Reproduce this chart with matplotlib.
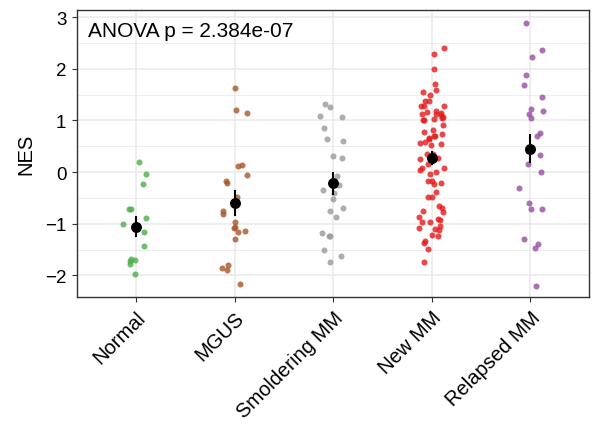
import numpy as np
import matplotlib
matplotlib.use("Agg")
import matplotlib.pyplot as plt
import matplotlib.transforms as mtransforms
from matplotlib.ticker import MultipleLocator

plt.rcParams['font.family'] = ['Liberation Sans', 'DejaVu Sans']

groups = ["Normal", "MGUS", "Smoldering MM", "New MM", "Relapsed MM"]
colors = ["#4DAF4A", "#A65628", "#999999", "#E41A1C", "#984EA3"]

nes_normal = [0.20, -0.04, -0.23, -0.71, -0.72, -0.89, -1.00, -1.15, -1.44,
              -1.70, -1.68, -1.72, -1.78, -1.97]
nes_mgus = [1.62, 1.21, 1.15, 0.14, 0.12, -0.05, -0.21, -0.17, -0.48, -0.75,
            -0.81, -0.96, -1.08, -1.14, -1.16, -1.06, -1.30, -1.79, -1.86,
            -1.90, -2.17]
nes_smoldering = [1.31, 1.27, 1.09, 1.06, 0.86, 0.64, 0.61, 0.32, 0.28, -0.08,
                  -0.25, -0.34, -0.40, -0.52, -0.69, -0.75, -0.86, -1.17,
                  -1.24, -1.23, -1.50, -1.62, -1.74]
nes_new = [2.41, 2.28, 2.00, 1.71, 1.59, 1.56, 1.50, 1.38, 1.37, 1.29, 1.29,
           1.28, 1.19, 1.16, 1.15, 1.13, 1.13, 1.11, 1.06, 1.04, 1.03, 1.01,
           1.00, 0.91, 0.82, 0.77, 0.74, 0.70, 0.70, 0.66, 0.64, 0.58, 0.57,
           0.54, 0.53, 0.35, 0.35, 0.27, 0.26, 0.15, 0.04, 0.08, 0.08, 0.00,
           -0.03, -0.17, -0.21, -0.17, -0.23, -0.39, -0.48, -0.49, -0.66,
           -0.70, -0.75, -0.77, -0.87, -0.90, -0.92, -0.96, -0.96, -1.04,
           -1.08, -1.10, -1.12, -1.21, -1.23, -1.33, -1.37, -1.48, -1.75]
nes_relapsed = [2.88, 2.37, 2.23, 1.89, 1.69, 1.46, 1.13, 1.19, 1.22, 1.04,
                0.76, 0.70, 0.47, 0.41, 0.33, 0.15, 0.01, -0.30, -0.59, -0.72,
                -0.72, -1.30, -1.40, -1.46, -2.20]

anova_label = "ANOVA p = 2.384e-07"

data = [nes_normal, nes_mgus, nes_smoldering, nes_new, nes_relapsed]

fig = plt.figure(figsize=(5.96, 4.39), dpi=100)
ax = fig.add_axes([0.129, 0.321, 0.860, 0.654])

rng = np.random.default_rng(7)
for i, (vals, col) in enumerate(zip(data, colors)):
    vals = np.array(vals)
    xj = i + 1 + rng.uniform(-0.13, 0.13, len(vals))
    ax.scatter(xj, vals, s=19, color=col, alpha=0.8, linewidths=0, zorder=3)
    # mean +/- standard error, like stat_summary
    m = vals.mean()
    se = vals.std(ddof=1) / np.sqrt(len(vals))
    ax.plot([i + 1, i + 1], [m - se, m + se], color="black", lw=1.5, zorder=4)
    ax.scatter([i + 1], [m], s=62, color="black", zorder=5, linewidths=0)

ax.set_xlim(0.4, 5.6)
ax.set_ylim(-2.42, 3.14)
ax.set_xticks(range(1, len(groups) + 1))
ax.set_xticklabels(groups, rotation=45, ha="right", rotation_mode="anchor",
                   fontsize=14.5)
# nudge the rotated labels a little to the right, as ggplot places them
shift = mtransforms.ScaledTranslation(6 / 100, 0, fig.dpi_scale_trans)
for lab in ax.get_xticklabels():
    lab.set_transform(lab.get_transform() + shift)

ax.yaxis.set_major_locator(MultipleLocator(1))
ax.yaxis.set_minor_locator(MultipleLocator(0.5))
ax.tick_params(axis="y", labelsize=13.5, length=3.5, color="#333333", pad=4)
ax.tick_params(axis="x", length=3.5, color="#333333", pad=4)
ax.tick_params(axis="y", which="minor", length=0)
ax.set_ylabel("NES", fontsize=14.5, labelpad=7)

ax.grid(True, which="major", color="#EBEBEB", lw=1.2, zorder=0)
ax.grid(True, which="minor", axis="y", color="#EBEBEB", lw=0.6, zorder=0)
ax.set_axisbelow(True)
for sp in ax.spines.values():
    sp.set_color("#333333")
    sp.set_linewidth(1.0)

ax.text(0.022, 0.93, anova_label, transform=ax.transAxes, fontsize=15,
        ha="left", va="center")

fig.savefig("out.png", dpi=100)
